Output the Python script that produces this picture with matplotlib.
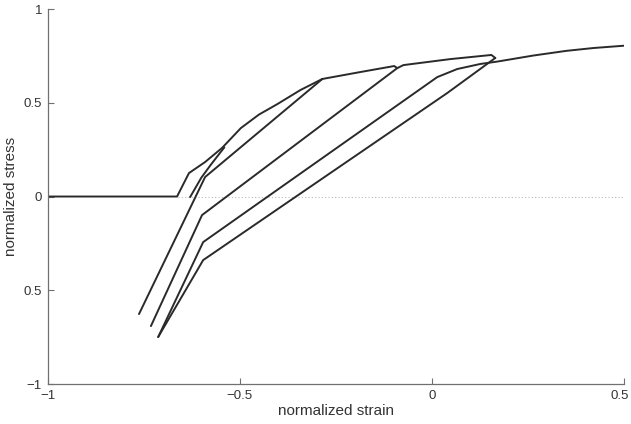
import matplotlib
matplotlib.use("Agg")
import matplotlib.pyplot as plt
import matplotlib.transforms as mtransforms

# ---- data (normalized strain, normalized stress) ----
envelope_x = [-1.0, -0.663, -0.632, -0.590, -0.546, -0.497, -0.450, -0.402, -0.342, -0.285]
envelope_y = [0.0, 0.0, 0.125, 0.184, 0.259, 0.365, 0.437, 0.493, 0.568, 0.627]

loop0_x = [-0.629, -0.600, -0.575, -0.540]
loop0_y = [-0.003, 0.100, 0.170, 0.262]

loop1_x = [-0.285, -0.590, -0.762]
loop1_y = [0.627, 0.104, -0.627]

branch12_x = [-0.285, -0.186, -0.098, -0.090]
branch12_y = [0.627, 0.664, 0.696, 0.685]

loop2_x = [-0.090, -0.598, -0.731]
loop2_y = [0.685, -0.099, -0.691]

branch23_x = [-0.090, -0.074, 0.048, 0.155, 0.165]
branch23_y = [0.685, 0.701, 0.733, 0.755, 0.739]

unload3_x = [0.165, 0.040, -0.595, -0.712]
unload3_y = [0.739, 0.552, -0.339, -0.749]

reload3_x = [-0.712, -0.595, 0.014, 0.066, 0.126, 0.171, 0.264, 0.350, 0.420, 0.504]
reload3_y = [-0.749, -0.243, 0.637, 0.680, 0.707, 0.720, 0.752, 0.777, 0.792, 0.805]

zero_x = [-0.66, 0.5]
zero_y = [0.0, 0.0]

xticks = [-1, -0.5, 0, 0.5]
xticklabels = ["\u22121", "\u22120.5", "0", "0.5"]
yticks = [-1, -0.5, 0, 0.5, 1]
yticklabels = ["\u22121", "0.5", "0", "0.5", "1"]

plt.rcParams['font.family'] = ['Liberation Sans', 'DejaVu Sans']

fig = plt.figure(figsize=(6.31, 4.24), dpi=100)
ax = fig.add_axes([0.0753, 0.0943, 0.9137, 0.8844])

lc = '#2a2a2a'
lw = 1.4
ax.plot(zero_x, zero_y, color='#bbbbbb', lw=0.8, ls=(0, (1, 2)))
for xs, ys in [(envelope_x, envelope_y), (loop0_x, loop0_y), (loop1_x, loop1_y),
               (branch12_x, branch12_y), (loop2_x, loop2_y), (branch23_x, branch23_y),
               (unload3_x, unload3_y), (reload3_x, reload3_y)]:
    ax.plot(xs, ys, color=lc, lw=lw, solid_joinstyle='round', solid_capstyle='round')

ax.set_xlim(-1, 0.5)
ax.set_ylim(-1, 1)
ax.spines['top'].set_visible(False)
ax.spines['right'].set_visible(False)
for s in ['left', 'bottom']:
    ax.spines[s].set_color('#707070')
    ax.spines[s].set_linewidth(0.9)

ax.set_xticks(xticks)
ax.set_xticklabels(xticklabels)
ax.set_yticks(yticks)
ax.set_yticklabels(yticklabels)
ax.tick_params(direction='in', length=4, width=0.8, color='#707070',
               labelsize=9.5, labelcolor='#333333')
ax.tick_params(axis='x', pad=4)
ax.tick_params(axis='y', pad=4)

# keep the last x tick label inside the figure
last = ax.get_xticklabels()[-1]
last.set_transform(last.get_transform() +
                   mtransforms.ScaledTranslation(-4 / 100, 0, fig.dpi_scale_trans))

ax.set_xlabel('normalized strain', fontsize=11, color='#333333')
ax.set_ylabel('normalized stress', fontsize=11, color='#333333')
ax.xaxis.set_label_coords(0.5, -0.053)
ax.yaxis.set_label_coords(-0.051, 0.5)

fig.savefig('out.png', dpi=100)
